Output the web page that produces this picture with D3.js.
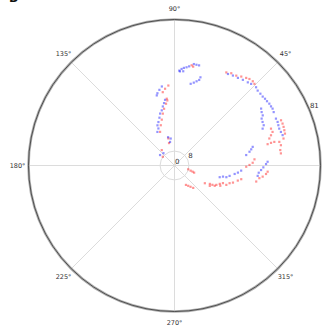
<!DOCTYPE html>
<html>
<head>
<meta charset="utf-8">
<script src="https://cdn.jsdelivr.net/npm/d3@7"></script>
<style>
  html, body { margin: 0; padding: 0; background: #fff; }
  svg { display: block; }
  text { font-family: "DejaVu Sans", sans-serif; }
</style>
</head>
<body>
<svg id="chart" width="328" height="326"></svg>
<script>
// Series A (red): angle in degrees, radius in data units
const redTheta = [80.3, 79.3,
  94.4, 97.0, 99.1, 96.6, 96.3, 97.8, 100.4, 102.7, 105.5, 108.8, 113.2, 102.8, 103.7, 129.6, 143.3,
  344.6, 342.2, 341.2, 340.0, 300.5, 304.0, 307.0, 309.9,
  329.7, 332.5, 333.0, 335.2, 337.9, 340.0, 339.5, 342.2, 343.7, 346.6, 348.4, 330.0, 333.2, 336.1,
  359.0, 0.4, 2.0, 4.4,
  348.9, 351.5, 352.8, 354.7, 356.2,
  12.9, 13.2, 13.3, 12.7, 10.8, 8.3, 6.5,
  60.9, 58.4, 55.5, 53.1, 50.7, 49.1, 47.1, 45.6,
  23.0, 21.2, 19.5, 17.8, 16.1, 13.9,
  20.9, 18.9, 17.4, 15.9];
const redR = [56.4, 55.8,
  44.5, 42.9, 41.2, 37.3, 36.3, 34.6, 32.0, 29.5, 26.4, 23.6, 20.3, 15.4, 12.8, 11.1, 8.1,
  7.9, 9.4, 10.6, 11.6, 12.5, 13.6, 14.8, 16.2,
  19.5, 22.1, 23.6, 25.6, 27.1, 28.6, 30.7, 32.1, 33.8, 36.1, 37.8, 22.6, 25.0, 27.8,
  39.8, 41.6, 43.4, 44.5,
  46.2, 47.6, 49.3, 51.0, 51.8,
  53.0, 55.0, 56.9, 59.6, 60.1, 59.3, 59.4,
  59.1, 60.1, 60.5, 61.7, 62.8, 63.5, 63.8, 63.4,
  64.2, 64.3, 64.2, 64.0, 63.8, 62.3,
  57.3, 57.5, 56.1, 54.7];

// Series B (blue)
const blueTheta = [87.1, 85.8, 84.5, 83.0, 81.6, 79.2, 77.7, 76.2, 86.7, 84.7,
  78.8, 76.9, 75.3, 73.9, 73.6,
  99.1, 101.3, 103.3, 104.2, 98.2, 99.5, 101.2, 103.0, 105.5, 107.5, 110.3, 113.0, 113.5, 117.0, 98.0, 102.8, 100.7, 144.1, 131.9,
  345.5, 347.1, 347.3, 349.3, 352.0, 353.6, 355.6,
  8.3, 10.4, 11.9, 13.4,
  352.9, 355.1, 357.0, 358.8, 0.9, 2.3,
  59.7, 57.0, 54.1, 51.4, 48.6, 46.8, 43.8, 42.0, 39.9, 38.0, 36.4, 34.8, 33.1, 31.5, 30.1, 28.3,
  33.3, 31.5, 29.6, 28.3, 26.3, 24.3, 22.7,
  24.8, 22.9, 21.2, 19.4, 17.5, 15.7];
const blueR = [52.7, 53.7, 54.4, 54.9, 55.6, 57.3, 57.2, 57.2, 52.3, 52.5,
  46.2, 47.2, 48.3, 49.4, 51.0,
  44.4, 42.8, 41.2, 40.1, 36.8, 35.1, 33.4, 31.4, 29.9, 27.8, 25.7, 24.2, 22.4, 20.9, 15.1, 16.1, 13.3, 9.9, 9.2,
  25.9, 27.6, 29.5, 31.1, 33.7, 35.4, 37.1,
  40.2, 42.3, 43.5, 44.6,
  46.5, 46.9, 48.1, 49.3, 50.8, 51.7,
  58.8, 59.5, 60.0, 60.8, 61.5, 62.1, 62.7, 62.1, 62.1, 62.1, 62.4, 62.5, 62.8, 62.8, 62.9, 62.5,
  57.5, 56.7, 56.3, 54.9, 54.5, 54.3, 53.0,
  62.0, 62.1, 61.8, 61.6, 61.9, 62.3];

// Axis ticks
const angleTicks = [0, 45, 90, 135, 180, 225, 270, 315];
const radialTicks = [0, 8, 81];
const radialMax = 81;
const radialLabelAngle = 22.5;

const W = 328, H = 326;
const svg = d3.select("#chart");
const cx = 174.5, cy = 165.5, R = 146;

const rScale = d3.scaleLinear().domain([0, radialMax]).range([0, R]);
const aScale = d3.scaleLinear().domain([0, 360]).range([0, 2 * Math.PI]);

const px = (deg, r) => cx + rScale(r) * Math.cos(aScale(deg));
const py = (deg, r) => cy - rScale(r) * Math.sin(aScale(deg));

// title, mostly above the top edge
svg.append("text").attr("x", 9).attr("y", 1.5)
  .attr("font-size", 12).attr("font-weight", "bold").attr("fill", "#111").text("B");

const grid = svg.append("g");
// spokes
grid.selectAll("line.spoke").data(angleTicks).join("line")
  .attr("class", "spoke")
  .attr("x1", cx).attr("y1", cy)
  .attr("x2", d => px(d, radialMax)).attr("y2", d => py(d, radialMax))
  .attr("stroke", "#dcdcdc").attr("stroke-width", 1);
// inner rings
grid.selectAll("circle.ring").data(radialTicks.filter(d => d > 0 && d < radialMax)).join("circle")
  .attr("class", "ring")
  .attr("cx", cx).attr("cy", cy).attr("r", d => rScale(d))
  .attr("fill", "none").attr("stroke", "#dcdcdc").attr("stroke-width", 1);

// points
function drawSeries(thetas, rs, color) {
  const pts = thetas.map((t, i) => [t, rs[i]]);
  svg.append("g").selectAll("rect").data(pts).join("rect")
    .attr("x", d => px(d[0], d[1]) - 1.1)
    .attr("y", d => py(d[0], d[1]) - 1.1)
    .attr("width", 2.2).attr("height", 2.2)
    .attr("fill", color).attr("fill-opacity", 0.42);
}
drawSeries(redTheta, redR, "#ff0000");
drawSeries(blueTheta, blueR, "#0000ff");

// outer boundary
svg.append("circle").attr("cx", cx).attr("cy", cy).attr("r", R)
  .attr("fill", "none").attr("stroke", "#b0b0b0").attr("stroke-width", 2.6);
svg.append("circle").attr("cx", cx).attr("cy", cy).attr("r", R)
  .attr("fill", "none").attr("stroke", "#444").attr("stroke-width", 0.9);

// angular labels (those that would fall past the page edge are left out)
const labelR = R + 11;
const angleLabels = angleTicks.filter(d => cx + labelR * Math.cos(aScale(d)) + 6 < W);
svg.append("g").selectAll("text").data(angleLabels).join("text")
  .attr("x", d => cx + labelR * Math.cos(aScale(d)))
  .attr("y", d => cy - labelR * Math.sin(aScale(d)))
  .attr("text-anchor", "middle").attr("dominant-baseline", "central")
  .attr("font-size", 6.5).attr("fill", "#333")
  .text(d => d + "°");

// radial labels
svg.append("g").selectAll("text").data(radialTicks).join("text")
  .attr("x", d => px(radialLabelAngle, d) + 0.5)
  .attr("y", d => py(radialLabelAngle, d) - 1.5)
  .attr("font-size", 7).attr("fill", "#333")
  .text(d => d);
</script>
</body>
</html>
